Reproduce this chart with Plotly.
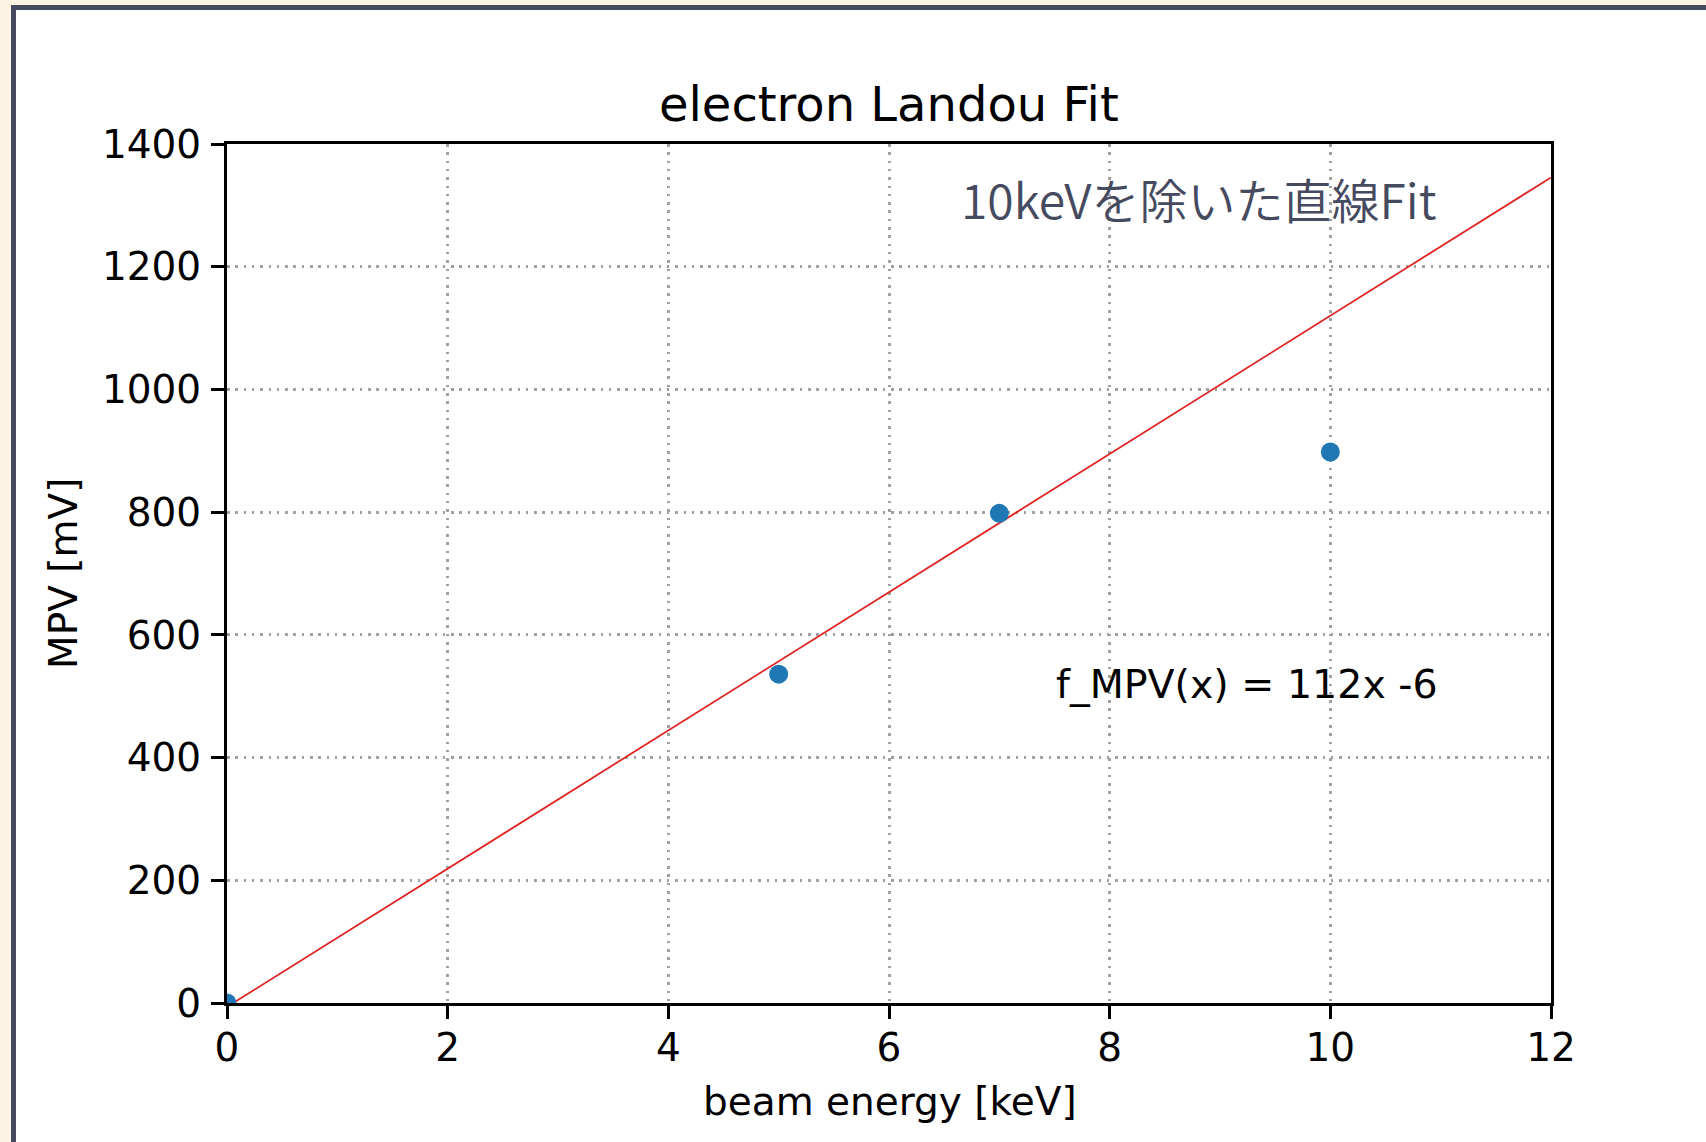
import plotly.graph_objects as go

# data
energy_kev = [0, 5, 7, 10]
mpv_mv = [0, 536, 798, 898]
fit_x = [0, 12]
fit_y = [-6.3, 1345.5]
x_ticks = [0, 2, 4, 6, 8, 10, 12]
y_ticks = [0, 200, 400, 600, 800, 1000, 1200, 1400]

W, H = 1706, 1142
L, R, T, B = 227, 1551, 144, 1003
pw, ph = R - L, B - T

def px(x):
    return (x - L) / pw

def py(y):
    return (B - y) / ph

fig = go.Figure()
fig.add_trace(go.Scatter(x=fit_x, y=fit_y, mode="lines",
                         line=dict(color="#e02424", width=1.8), showlegend=False))
fig.add_trace(go.Scatter(x=energy_kev, y=mpv_mv, mode="markers",
                         marker=dict(color="#1f77b4", size=19), showlegend=False))

font_main = "DejaVu Sans"
axis_common = dict(
    showline=True, linewidth=3, linecolor="black", mirror=True,
    ticks="outside", ticklen=13, tickwidth=3, tickcolor="black",
    showgrid=True, gridcolor="#a0a0a0", gridwidth=2.5, griddash="2.5px,5.8px",
    zeroline=False, tickfont=dict(family=font_main, size=39, color="black"),
)
fig.update_xaxes(range=[0, 12], tickvals=x_ticks, ticklabelstandoff=-5, **axis_common)
fig.update_yaxes(range=[0, 1400], tickvals=y_ticks, ticklabelstandoff=2, **axis_common)

annots = [
    dict(text="electron Landou Fit", x=px(889), y=py(104), xref="paper", yref="paper",
         showarrow=False, xanchor="center", yanchor="middle",
         font=dict(family=font_main, size=48, color="black")),
    dict(text="beam energy [keV]", x=px(890), y=py(1101), xref="paper", yref="paper",
         showarrow=False, xanchor="center", yanchor="middle",
         font=dict(family=font_main, size=39, color="black")),
    dict(text="MPV [mV]", x=px(63), y=py(574), xref="paper", yref="paper",
         showarrow=False, xanchor="center", yanchor="middle", textangle=-90,
         font=dict(family=font_main, size=39, color="black")),
    dict(text="10keVを除いた直線Fit", x=px(959), y=py(198), xref="paper", yref="paper",
         showarrow=False, xanchor="left", yanchor="middle",
         font=dict(family="Noto Sans CJK JP", size=48, color="#464a5f", weight=350)),
    dict(text="f_MPV(x) = 112x -6", x=px(1054), y=py(684), xref="paper", yref="paper",
         showarrow=False, xanchor="left", yanchor="middle",
         font=dict(family=font_main, size=39.5, color="black")),
]

shapes = [
    dict(type="rect", xref="paper", yref="paper", layer="below",
         x0=px(13.5), x1=px(1730), y0=py(1170), y1=py(7.5),
         line=dict(color="#464a5f", width=5), fillcolor="white"),
]

fig.update_layout(
    width=W, height=H,
    margin=dict(l=L, r=W - R, t=T, b=H - B, pad=0),
    paper_bgcolor="#fdf3e2", plot_bgcolor="rgba(0,0,0,0)",
    annotations=annots, shapes=shapes, showlegend=False,
)

fig.write_html("out.html", config={"displayModeBar": False})
